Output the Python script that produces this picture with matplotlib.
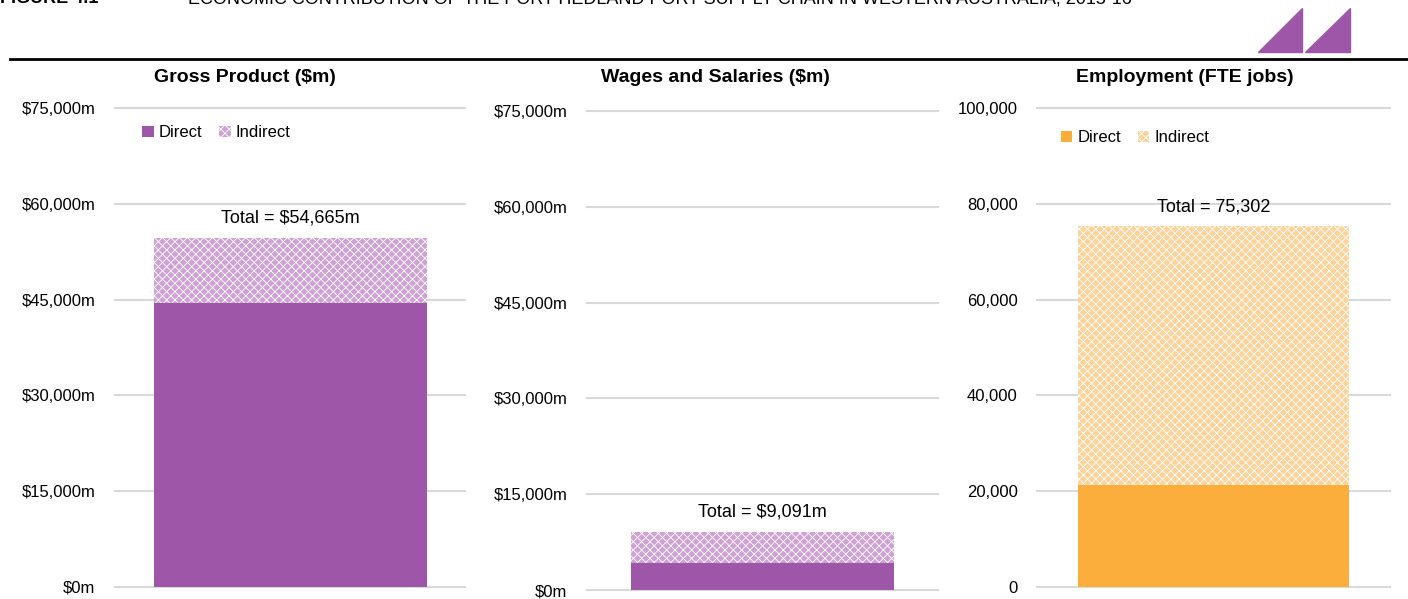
import matplotlib.pyplot as plt
from matplotlib.patches import Polygon
from matplotlib.ticker import FuncFormatter

plt.rcParams['font.family'] = ['Liberation Sans Narrow', 'Liberation Sans', 'DejaVu Sans']
plt.rcParams['hatch.linewidth'] = 0.6

# datos
titulos = ["Gross Product ($m)", "Wages and Salaries ($m)", "Employment (FTE jobs)"]
directo = [44500, 4200, 21300]
total = [54665, 9091, 75302]
etiquetas_total = ["Total = $54,665m", "Total = $9,091m", "Total = 75,302"]
ticks_dinero = [0, 15000, 30000, 45000, 60000, 75000]
ticks_empleo = [0, 20000, 40000, 60000, 80000, 100000]

morado = '#9E57A8'
morado_claro = '#CFA2D5'
naranja = '#FBAE3C'
naranja_claro = '#FDD39A'

W, H = 1408, 599
fig = plt.figure(figsize=(W / 100, H / 100), dpi=100)

def caja(x0, x1, y_top, y_cero):
    return [x0 / W, 1 - y_cero / H, (x1 - x0) / W, (y_cero - y_top) / H]

cajas = [caja(115, 465, 108, 587), caja(587, 938, 111, 590), caja(1037, 1390, 108, 587)]
anchos = [0.78, 0.75, 0.77]
centros_titulo = [245, 715, 1185]
leyendas = [(0.035, 0.995), None, (0.025, 0.985)]

for i in range(3):
    ax = fig.add_axes(cajas[i])
    if i < 2:
        c1, c2 = morado, morado_claro
        ticks = ticks_dinero
        fmt = FuncFormatter(lambda v, p: f"${v:,.0f}m")
    else:
        c1, c2 = naranja, naranja_claro
        ticks = ticks_empleo
        fmt = FuncFormatter(lambda v, p: f"{v:,.0f}")

    ax.bar(0, directo[i], width=anchos[i], color=c1, label="Direct", zorder=3)
    ax.bar(0, total[i] - directo[i], bottom=directo[i], width=anchos[i], facecolor=c2,
           edgecolor='white', hatch='xxxx', linewidth=0, label="Indirect", zorder=3)
    ax.annotate(etiquetas_total[i], (0, total[i]), xytext=(0, 14), textcoords='offset points',
                ha='center', va='center', fontsize=13, zorder=4)

    ax.set_xlim(-0.5, 0.5)
    ax.set_ylim(ticks[0], ticks[-1])
    ax.set_yticks(ticks)
    ax.yaxis.set_major_formatter(fmt)
    ax.set_xticks([])
    ax.tick_params(axis='y', length=0, pad=14, labelsize=12)
    for s in ax.spines.values():
        s.set_visible(False)
    for t in ticks:
        ax.axhline(t, color='#D9D9D9', linewidth=1.5, zorder=1, clip_on=False)

    if leyendas[i] is not None:
        ax.legend(loc='upper left', bbox_to_anchor=leyendas[i], ncol=2, frameon=False,
                  fontsize=12, handlelength=0.7, handleheight=0.7, handletextpad=0.3,
                  columnspacing=1.0)

    fig.text(centros_titulo[i] / W, 1 - 78 / H, titulos[i], ha='center', va='center',
             fontsize=14, fontweight='bold')

# cabecera cortada por arriba, como en el original
fig.text(0 / W, 1 - 3 / H, "FIGURE 4.1", ha='left', va='baseline', fontsize=13, fontweight='bold')
fig.text(188 / W, 1 - 3 / H,
         "ECONOMIC CONTRIBUTION OF THE PORT HEDLAND PORT SUPPLY CHAIN IN WESTERN AUSTRALIA, 2015-16",
         ha='left', va='baseline', fontsize=13)
fig.add_artist(plt.Line2D([10 / W, 1], [1 - 59 / H, 1 - 59 / H], color='black', linewidth=2,
                          transform=fig.transFigure))

# triangulos decorativos
for x0, x1 in [(1258, 1302), (1305, 1350)]:
    tri = Polygon([(x0 / W, 1 - 52 / H), (x1 / W, 1 - 52 / H), (x1 / W, 1 - 8 / H)],
                  closed=True, color=morado, transform=fig.transFigure)
    fig.add_artist(tri)

plt.savefig('out.png', dpi=100)
plt.close()
